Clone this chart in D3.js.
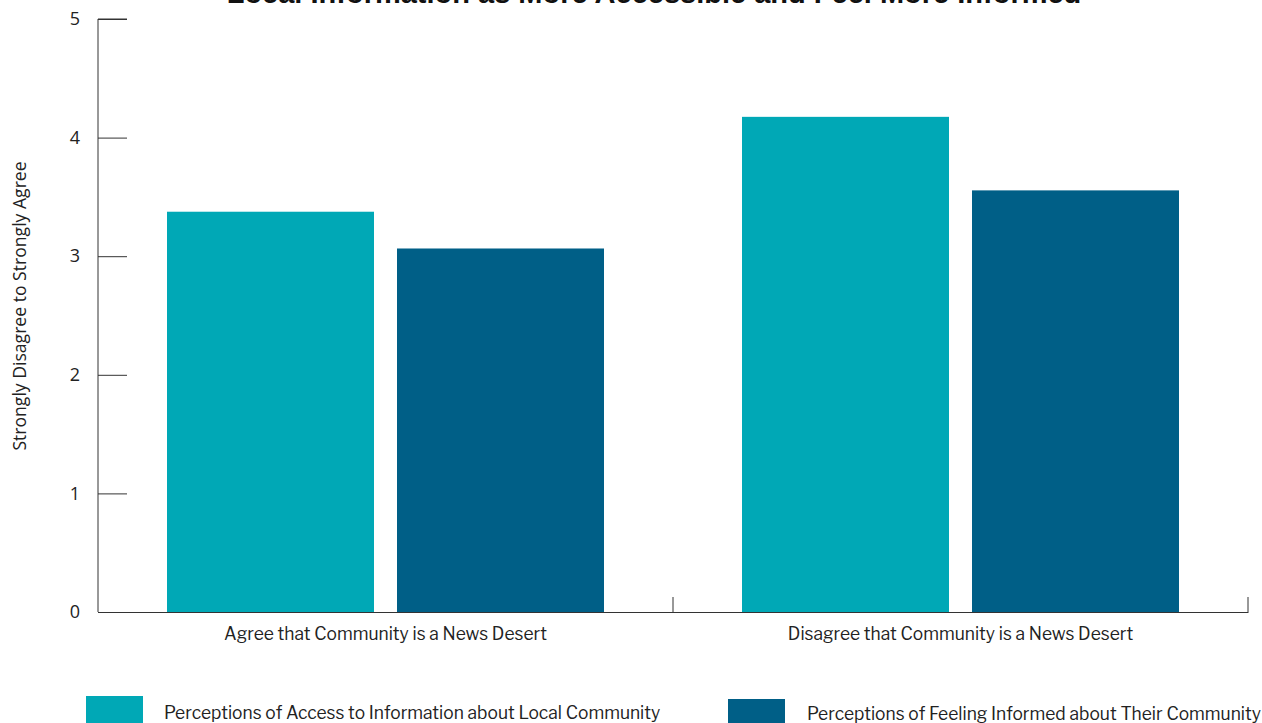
<!DOCTYPE html>
<html><head><meta charset="utf-8">
<script src="https://cdn.jsdelivr.net/npm/d3@7"></script>
<style>body{margin:0;background:#fff;} svg{display:block;}</style>
</head><body>
<svg id="c" width="1262" height="723"></svg>
<script>
const title = "Local Information as More Accessible and Feel More Informed";
const yLabel = "Strongly Disagree to Strongly Agree";
const categories = ["Agree that Community is a News Desert", "Disagree that Community is a News Desert"];
const seriesNames = ["Perceptions of Access to Information about Local Community", "Perceptions of Feeling Informed about Their Community"];
const accessValues = [3.375, 4.175];
const informedValues = [3.065, 3.555];
const yTicks = [0, 1, 2, 3, 4, 5];
const colors = ["#00A8B6", "#005F87"];

const svg = d3.select("#c");
const margin = {left: 98, right: 14, top: 19, bottom: 111};
const W = 1262, H = 723;
const x0 = d3.scaleBand().domain(categories).range([margin.left, W - margin.right]).paddingInner(0).paddingOuter(0);
const x1 = d3.scaleBand().domain([0, 1]).range([0, x0.bandwidth()]).paddingInner(0.1).paddingOuter(0.3);
const y = d3.scaleLinear().domain([0, 5]).range([H - margin.bottom, margin.top]);

const data = categories.map((c, i) => ({cat: c, vals: [accessValues[i], informedValues[i]]}));

// bars
const g = svg.append("g");
data.forEach(d => {
  d.vals.forEach((v, j) => {
    g.append("rect")
      .attr("x", x0(d.cat) + x1(j))
      .attr("y", y(v))
      .attr("width", x1.bandwidth())
      .attr("height", y(0) - y(v))
      .attr("fill", colors[j]);
  });
});

// y axis
const yAxis = svg.append("g").attr("transform", `translate(${margin.left},0)`)
  .call(d3.axisRight(y).tickValues(yTicks).tickSize(29).tickFormat(d3.format("d")));
yAxis.select(".domain").attr("stroke", "#333").attr("d", `M29,${y(5)}H0V${y(0)}`);
yAxis.selectAll(".tick line").attr("stroke", "#333");
yAxis.selectAll(".tick text").attr("x", -18).attr("text-anchor", "end")
  .attr("font-family", "'Open Sans', sans-serif").attr("font-size", 18).attr("fill", "#222");

// x axis
const xAxis = svg.append("g").attr("transform", `translate(0,${y(0)})`)
  .call(d3.axisBottom(x0).tickSize(0));
xAxis.select(".domain").attr("stroke", "#333");
xAxis.selectAll(".tick text").attr("dy", "0").attr("y", 28)
  .attr("font-family", "'Libre Franklin', Lato, sans-serif").attr("font-size", 17.4).attr("fill", "#222");
// separators
categories.forEach(c => {
  const xe = x0(c) + x0.bandwidth();
  svg.append("line").attr("x1", xe).attr("x2", xe).attr("y1", y(0)).attr("y2", y(0) - 15)
    .attr("stroke", "#333");
});

// y label
svg.append("text")
  .attr("transform", `translate(26,306) rotate(-90)`)
  .attr("text-anchor", "middle")
  .attr("font-family", "'Open Sans', sans-serif").attr("font-size", 17.6).attr("fill", "#222")
  .text(yLabel);

// title
svg.append("text").attr("x", 654).attr("y", 3).attr("text-anchor", "middle")
  .attr("font-family", "'Liberation Sans', Arial, sans-serif").attr("font-weight", "bold")
  .attr("font-size", 29).attr("fill", "#111").text(title);

// legend
const legendPos = [{rx: 86, ry: 696, tx: 164, ty: 719}, {rx: 728, ry: 699, tx: 807, ty: 720}];
seriesNames.forEach((s, i) => {
  const p = legendPos[i];
  svg.append("rect").attr("x", p.rx).attr("y", p.ry).attr("width", 57).attr("height", 40).attr("fill", colors[i]);
  svg.append("text").attr("x", p.tx).attr("y", p.ty)
    .attr("font-family", "'Libre Franklin', Lato, sans-serif").attr("font-size", 17.4).attr("fill", "#222").text(s);
});
</script>
</body></html>
